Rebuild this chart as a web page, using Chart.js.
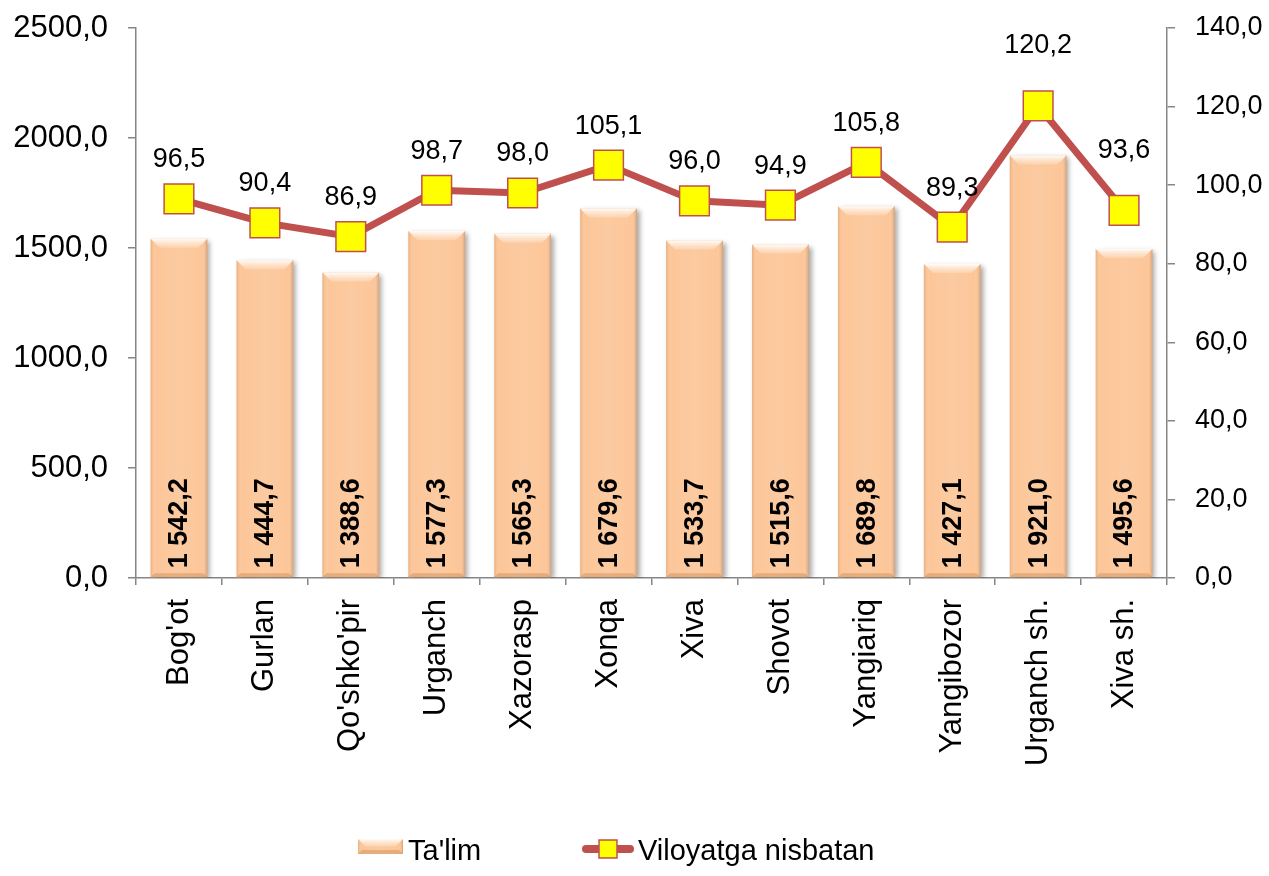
<!DOCTYPE html>
<html>
<head>
<meta charset="utf-8">
<script src="https://cdn.jsdelivr.net/npm/chart.js@4.4.1/dist/chart.umd.min.js"></script>
<style>
  body { margin: 0; background: #fff; }
  #wrap { position: relative; width: 1269px; height: 876px; }
  #legend span { position: absolute; font: 29px "Liberation Sans", Arial, sans-serif; color: #000; }
  #legend canvas { position: absolute; }
</style>
</head>
<body>
<div id="wrap">
  <canvas id="myChart" width="1269" height="876"></canvas>
  <div id="legend">
    <canvas id="symBar" width="48" height="18" style="left:357px;top:838px"></canvas>
    <span style="left:408px;top:834px">Ta'lim</span>
    <canvas id="symLine" width="54" height="24" style="left:581px;top:837px"></canvas>
    <span style="left:638px;top:834px">Viloyatga nisbatan</span>
  </div>
</div>
<script>
// data
const categories = ["Bog'ot", 'Gurlan', "Qo'shko'pir", 'Urganch', 'Xazorasp', 'Xonqa', 'Xiva', 'Shovot', 'Yangiariq', 'Yangibozor', 'Urganch sh.', 'Xiva sh.'];
const talim = [1542.2, 1444.7, 1388.6, 1577.3, 1565.3, 1679.6, 1533.7, 1515.6, 1689.8, 1427.1, 1921.0, 1495.6];
const nisbatan = [96.5, 90.4, 86.9, 98.7, 98.0, 105.1, 96.0, 94.9, 105.8, 89.3, 120.2, 93.6];
const leftTicks = { max: 2500, step: 500 };
const rightTicks = { max: 140, step: 20 };

const FONT = '"Liberation Sans", Arial, sans-serif';
const axisGray = '#868686';
const peach = '#FCC699';
const lineRed = '#C0504D';

function comma(v) {
  return v.toFixed(1).replace('.', ',');
}
function spaced(v) {
  const parts = v.toFixed(1).split('.');
  return parts[0].replace(/\B(?=(\d{3})+(?!\d))/g, ' ') + ',' + parts[1];
}

// bevel look for the bars (drawn on top of the library's bars)
function bevel(c, l, top, w, h) {
  const r = l + w, b = Math.min(9, h / 2);
  const g = c.createLinearGradient(l, 0, r, 0);
  g.addColorStop(0, 'rgba(200,130,70,0.35)');
  g.addColorStop(0.1, 'rgba(255,255,255,0)');
  g.addColorStop(0.5, 'rgba(255,255,255,0.08)');
  g.addColorStop(0.9, 'rgba(255,255,255,0)');
  g.addColorStop(1, 'rgba(170,100,50,0.4)');
  c.fillStyle = g;
  c.fillRect(l, top, w, h);
  c.beginPath();
  c.moveTo(l, top); c.lineTo(r, top); c.lineTo(r - b, top + b); c.lineTo(l + b, top + b);
  c.closePath();
  const tg = c.createLinearGradient(0, top, 0, top + b);
  tg.addColorStop(0, 'rgba(255,255,255,0.95)');
  tg.addColorStop(1, 'rgba(255,235,215,0.3)');
  c.fillStyle = tg;
  c.fill();
  c.beginPath();
  c.moveTo(l, top + h); c.lineTo(r, top + h); c.lineTo(r - 4, top + h - 4); c.lineTo(l + 4, top + h - 4);
  c.closePath();
  c.fillStyle = 'rgba(180,110,50,0.3)';
  c.fill();
}

const barLook = {
  id: 'barLook',
  beforeDatasetDraw(chart, args) {
    if (args.index !== 0) return;
    const c = chart.ctx;
    c.save();
    c.shadowColor = 'rgba(0,0,0,0.35)';
    c.shadowBlur = 5;
    c.shadowOffsetX = 3;
    c.shadowOffsetY = 2;
  },
  afterDatasetDraw(chart, args) {
    if (args.index !== 0) return;
    const c = chart.ctx;
    c.restore();
    args.meta.data.forEach(bar => {
      const p = bar.getProps(['x', 'y', 'base', 'width'], true);
      c.save();
      bevel(c, p.x - p.width / 2, p.y, p.width, p.base - p.y);
      c.restore();
    });
  }
};

// value labels (the last two line labels sit higher in the original)
const valueLabels = {
  id: 'valueLabels',
  afterDatasetsDraw(chart) {
    const c = chart.ctx;
    c.save();
    c.fillStyle = '#000';
    c.font = 'bold 27px ' + FONT;
    c.textAlign = 'left';
    c.textBaseline = 'middle';
    chart.getDatasetMeta(0).data.forEach((bar, i) => {
      const p = bar.getProps(['x', 'base'], true);
      c.save();
      c.translate(p.x + 1, p.base - 9);
      c.rotate(-Math.PI / 2);
      c.fillText(spaced(talim[i]), 0, 0);
      c.restore();
    });
    c.font = '27px ' + FONT;
    c.textAlign = 'center';
    chart.getDatasetMeta(1).data.forEach((pt, i) => {
      const lift = i >= 10 ? 60 : 39;
      c.fillText(comma(nisbatan[i]), pt.x, pt.y - lift);
    });
    c.restore();
  }
};

// fixed axis sizes so the plot area sits where it does in the original
function fixY(width) {
  return s => { s.width = width; s.paddingTop = 0; };
}

new Chart(document.getElementById('myChart'), {
  type: 'bar',
  data: {
    labels: categories,
    datasets: [{
      label: "Ta'lim",
      data: talim,
      backgroundColor: peach,
      borderWidth: 0,
      barPercentage: 0.66,
      categoryPercentage: 1,
      yAxisID: 'y',
      order: 2
    }, {
      type: 'line',
      label: 'Viloyatga nisbatan',
      data: nisbatan,
      borderColor: lineRed,
      borderWidth: 7,
      pointStyle: 'rect',
      pointRadius: 21,
      pointBackgroundColor: '#FFFF00',
      pointBorderColor: lineRed,
      pointBorderWidth: 1.5,
      tension: 0,
      yAxisID: 'y1',
      order: 1
    }]
  },
  options: {
    responsive: false,
    animation: false,
    layout: { padding: { top: 28, bottom: 98, left: 0, right: 0 } },
    plugins: { legend: { display: false }, tooltip: { enabled: false } },
    scales: {
      x: {
        offset: true,
        grid: { offset: true, drawOnChartArea: false, tickLength: 7, color: axisGray, lineWidth: 1.5 },
        border: { color: axisGray, width: 1.5 },
        ticks: { autoSkip: false, maxRotation: 90, minRotation: 90, padding: 14, color: '#000', font: { size: 31, family: FONT } },
        afterFit: s => { s.height = 200; }
      },
      y: {
        position: 'left',
        min: 0, max: leftTicks.max,
        grid: { drawOnChartArea: false, tickLength: 8, color: axisGray, lineWidth: 1.5 },
        border: { color: axisGray, width: 1.5 },
        ticks: { stepSize: leftTicks.step, padding: 20, color: '#000', font: { size: 31, family: FONT }, callback: v => comma(v) },
        afterFit: fixY(136)
      },
      y1: {
        position: 'right',
        min: 0, max: rightTicks.max,
        grid: { drawOnChartArea: false, tickLength: 8, color: axisGray, lineWidth: 1.5 },
        border: { color: axisGray, width: 1.5 },
        ticks: { stepSize: rightTicks.step, padding: 20, color: '#000', font: { size: 27, family: FONT }, callback: v => comma(v) },
        afterFit: fixY(102)
      }
    }
  },
  plugins: [barLook, valueLabels]
});

// legend symbols
const sb = document.getElementById('symBar').getContext('2d');
sb.fillStyle = peach;
sb.fillRect(1, 1, 45, 15);
bevel(sb, 1, 1, 45, 15);

const sl = document.getElementById('symLine').getContext('2d');
sl.strokeStyle = lineRed;
sl.lineWidth = 8;
sl.lineCap = 'round';
sl.beginPath(); sl.moveTo(5, 12); sl.lineTo(49, 12); sl.stroke();
sl.fillStyle = '#FFFF00';
sl.fillRect(18, 3, 18, 18);
sl.strokeStyle = lineRed;
sl.lineWidth = 1.5;
sl.strokeRect(18, 3, 18, 18);
</script>
</body>
</html>
